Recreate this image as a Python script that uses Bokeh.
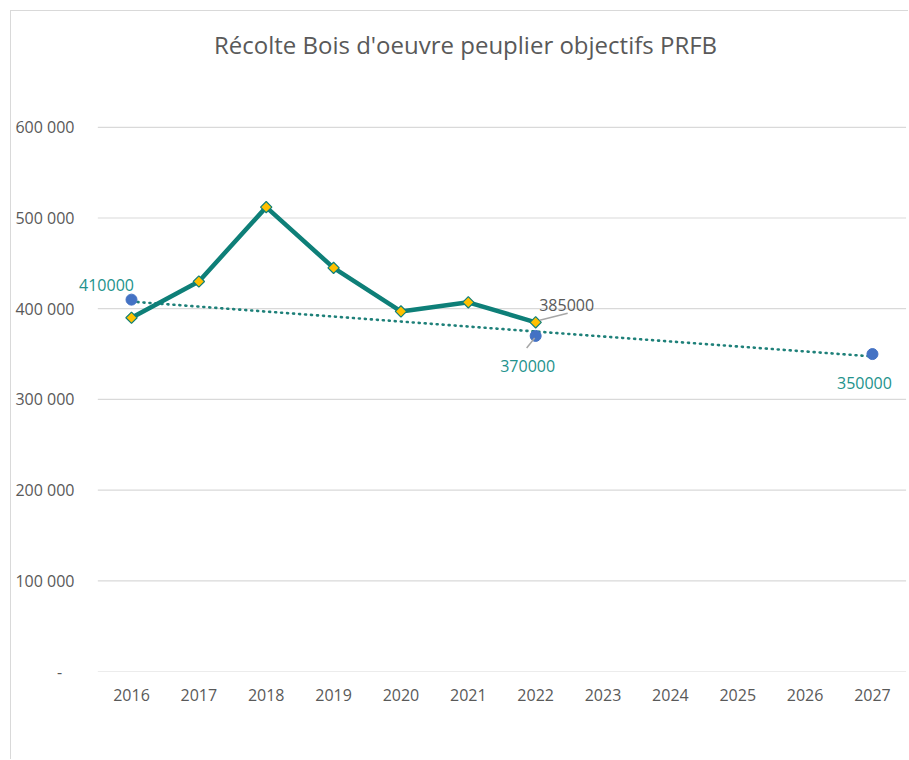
import numpy as np
from bokeh.plotting import figure
from bokeh.models import Range1d, Label
from bokeh.embed import file_html
from bokeh.resources import INLINE

# ---- data ----
title_text = "Récolte Bois d'oeuvre peuplier objectifs PRFB"
axis_years = [2016, 2017, 2018, 2019, 2020, 2021, 2022, 2023, 2024, 2025, 2026, 2027]
harvest_years = [2016, 2017, 2018, 2019, 2020, 2021, 2022]
harvest = [390000, 430000, 512000, 445000, 397000, 407000, 385000]
target_years = [2016, 2022, 2027]
targets = [410000, 370000, 350000]
y_ticks = [0, 100000, 200000, 300000, 400000, 500000, 600000]
y_tick_labels = ["-\u00a0\u00a0\u00a0", "100 000", "200 000", "300 000", "400 000", "500 000", "600 000"]

FONT = "Open Sans"
GRAY = "#595959"
TEAL = "#0E7F78"
TEAL_TXT = "#23928C"
BLUE = "#4472C4"
GOLD = "#FFC000"

# ---- layout (pixels) ----
W, H = 898, 749
ML, MR, MT, MB = 63, 3, 9, 89
PX_PER_YEAR = 67.36
PX_PER_UNIT = 90.7 / 100000
FRAME_W = W - ML - MR
FRAME_H = H - MT - MB
# first category centre sits 57 px right of the frame's left edge
x0 = axis_years[0] - 57 / PX_PER_YEAR
x1 = x0 + FRAME_W / PX_PER_YEAR
y0 = 0
y1 = FRAME_H / PX_PER_UNIT

p = figure(width=W, height=H, output_backend="svg", toolbar_location=None,
           x_range=Range1d(x0, x1), y_range=Range1d(y0, y1),
           min_border_left=ML, min_border_right=MR, min_border_top=MT, min_border_bottom=MB)
p.styles = {"margin-left": "10px", "margin-top": "10px",
            "border-top": "1px solid #d9d9d9", "border-left": "1px solid #d9d9d9"}
p.outline_line_color = None
p.background_fill_color = "white"
p.border_fill_color = "white"

px_x = 1 / PX_PER_YEAR
px_y = 1 / PX_PER_UNIT

# axes
p.xaxis.ticker = axis_years
p.yaxis.ticker = y_ticks
p.yaxis.major_label_overrides = {t: s for t, s in zip(y_ticks, y_tick_labels)}
for ax in (p.xaxis[0], p.yaxis[0]):
    ax.axis_line_color = None
    ax.major_tick_line_color = None
    ax.minor_tick_line_color = None
    ax.major_label_text_color = GRAY
    ax.major_label_text_font = FONT
    ax.major_label_text_font_size = "16px"
p.yaxis.major_label_standoff = -6
p.xaxis.major_label_standoff = 11
p.xgrid.visible = False
p.ygrid.visible = False

# horizontal gridlines spanning the category band
cat_lo = axis_years[0] - 0.5
cat_hi = axis_years[-1] + 0.5
p.segment(x0=[cat_lo] * len(y_ticks), y0=y_ticks, x1=[cat_hi] * len(y_ticks), y1=y_ticks,
          line_color="#d9d9d9", line_width=1.2)

# linear trend of the objectives
coef = np.polyfit(target_years, targets, 1)
trend_x = [target_years[0], target_years[-1]]
trend_y = list(np.polyval(coef, trend_x))
p.line(trend_x, trend_y, line_color="#1E8079", line_width=2.6, line_dash="1 5", line_cap="round")

# harvest series
p.line(harvest_years, harvest, line_color=TEAL, line_width=4.5, line_join="round")
p.scatter(harvest_years, harvest, marker="square", angle=np.pi / 4, size=8,
          fill_color=GOLD, line_color=TEAL, line_width=1.2)

# objectives
p.scatter(target_years, targets, marker="circle", size=11, fill_color=BLUE, line_color=BLUE)

# leader lines
p.segment(x0=[harvest_years[-1] + 4 * px_x], y0=[harvest[-1] + 2 * px_y],
          x1=[harvest_years[-1] + 32 * px_x], y1=[harvest[-1] + 9 * px_y],
          line_color="#A6A6A6", line_width=1.5)
p.segment(x0=[target_years[1] - 1 * px_x], y0=[targets[1] - 2 * px_y],
          x1=[target_years[1] - 9 * px_x], y1=[targets[1] - 12 * px_y],
          line_color="#A6A6A6", line_width=1.5)

# data labels
def lab(x, y, txt, dx, dy, color):
    p.add_layout(Label(x=x, y=y, text=txt, x_offset=dx, y_offset=dy,
                       text_align="center", text_baseline="alphabetic",
                       text_font=FONT, text_font_size="16px", text_color=color))

lab(target_years[0], targets[0], str(targets[0]), -25, 15, TEAL_TXT)
lab(target_years[1], targets[1], str(targets[1]), -8, -30, TEAL_TXT)
lab(target_years[2], targets[2], str(targets[2]), -8, -29, TEAL_TXT)
lab(harvest_years[-1], harvest[-1], str(harvest[-1]), 31, 17, GRAY)

# title (centred over the chart area)
p.add_layout(Label(x=axis_years[0] + 334 * px_x, y=627 * px_y, text=title_text,
                   text_align="center", text_baseline="middle",
                   text_font=FONT, text_font_size="24px", text_color=GRAY))

open("out.html", "w").write(file_html(p, INLINE))
